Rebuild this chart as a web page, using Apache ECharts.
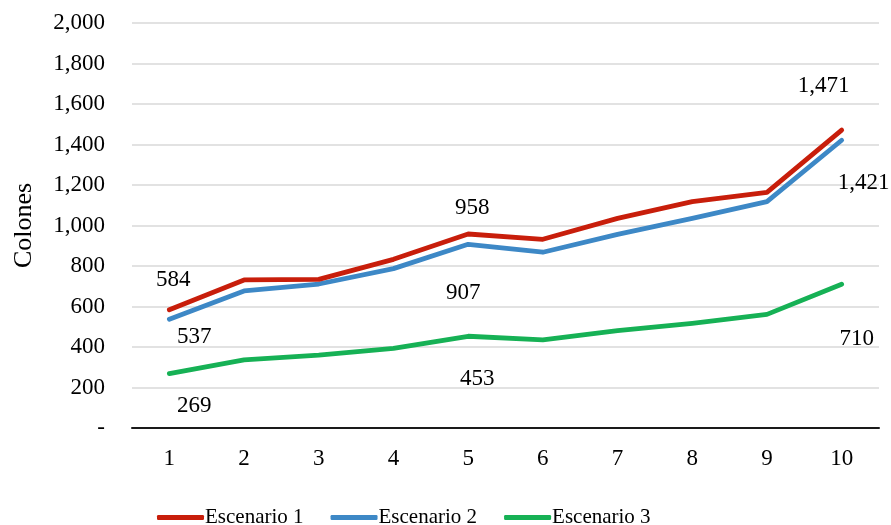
<!DOCTYPE html>
<html>
<head>
<meta charset="utf-8">
<script src="https://cdn.jsdelivr.net/npm/echarts@6/dist/echarts.min.js"></script>
<style>
  html, body { margin: 0; padding: 0; background: #fff; }
  #chart { width: 891px; height: 525px; }
</style>
</head>
<body>
<div id="chart"></div>
<script>
// Period labels on the x axis
const categories = ['1', '2', '3', '4', '5', '6', '7', '8', '9', '10'];

// Values per scenario (colones)
const escenario1 = [584, 731, 734, 833, 958, 932, 1035, 1118, 1164, 1471];
const escenario2 = [537, 677, 711, 787, 907, 868, 956, 1035, 1118, 1421];
const escenario3 = [269, 336, 360, 393, 453, 435, 481, 517, 561, 710];

const seriesNames = ['Escenario 1', 'Escenario 2', 'Escenario 3'];

// Indices whose value is written next to the point
const labelledIndices = [0, 4, 9];

// Label placement (pixels) per series, per labelled index
const labelOffsets = [
  { 0: ['top', [4, -13]], 4: ['top', [4, -9]], 9: ['top', [-18, -27]] },
  { 0: ['bottom', [25, 1]], 4: ['bottom', [-5, 32]], 9: ['bottom', [22, 26]] },
  { 0: ['bottom', [25, 15]], 4: ['bottom', [9, 26]], 9: ['bottom', [15, 38]] }
];

const colors = ['#C81E0B', '#3D88C6', '#16B155'];
const font = 'Liberation Serif';

function fmt(v) {
  return v === 0 ? '-' : v.toLocaleString('en-US');
}

function buildData(values, sIdx) {
  return values.map((v, i) => {
    if (labelledIndices.indexOf(i) === -1) return v;
    const [pos, off] = labelOffsets[sIdx][i];
    return {
      value: v,
      label: {
        show: true,
        position: pos,
        offset: off,
        formatter: p => fmt(p.value),
        color: '#000',
        fontFamily: font,
        fontSize: 23
      }
    };
  });
}

const chart = echarts.init(document.getElementById('chart'), null, { renderer: 'canvas' });

chart.setOption({
  animation: false,
  backgroundColor: '#fff',
  grid: { left: 132, right: 12, top: 23, bottom: 97, containLabel: false, outerBoundsMode: 'none' },
  legend: {
    left: 152,
    top: 502,
    itemWidth: 47,
    itemHeight: 5,
    itemGap: 27,
    icon: 'roundRect',
    itemStyle: { opacity: 1 },
    textStyle: { fontFamily: font, fontSize: 21, color: '#000', padding: [0, 0, 0, -4] },
    data: seriesNames
  },
  xAxis: {
    type: 'category',
    data: categories,
    boundaryGap: true,
    axisLine: { show: true, lineStyle: { color: '#1a1a1a', width: 2 } },
    axisTick: { show: false },
    axisLabel: { fontFamily: font, fontSize: 23, color: '#000', margin: 19 }
  },
  yAxis: {
    type: 'value',
    min: 0,
    max: 2000,
    interval: 200,
    name: 'Colones',
    nameLocation: 'middle',
    nameGap: 95,
    nameRotate: 90,
    nameTextStyle: { fontFamily: font, fontSize: 26, color: '#000' },
    axisLine: { show: false },
    axisTick: { show: false },
    splitLine: { lineStyle: { color: '#d9d9d9', width: 1.5 } },
    axisLabel: {
      fontFamily: font,
      fontSize: 23,
      color: '#000',
      margin: 27,
      formatter: fmt
    }
  },
  series: [escenario1, escenario2, escenario3].map((vals, i) => ({
    name: seriesNames[i],
    type: 'line',
    data: buildData(vals, i),
    color: colors[i],
    symbol: 'circle',
    symbolSize: 1,
    showSymbol: true,
    itemStyle: { color: colors[i] },
    lineStyle: { width: 4.8, color: colors[i], cap: 'round', join: 'round' },
    z: 3 - i
  }))
});
</script>
</body>
</html>
